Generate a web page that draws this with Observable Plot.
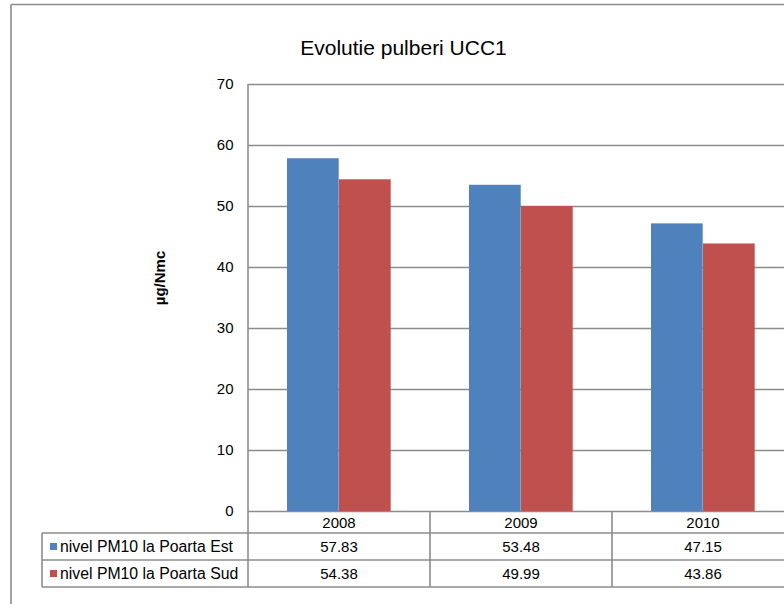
<!DOCTYPE html>
<html><head><meta charset="utf-8">
<script src="https://cdn.jsdelivr.net/npm/d3@7"></script>
<script src="https://cdn.jsdelivr.net/npm/@observablehq/plot@0.6"></script>
<style>
html,body{margin:0;padding:0;background:#fff;overflow:hidden}
#chart svg{font-family:"Liberation Sans",Arial,sans-serif;display:block;background:#fff}
</style></head><body><div id="chart"></div>
<script>
const title = "Evolutie pulberi UCC1";
const yLabel = "µg/Nmc";
const years = ["2008", "2009", "2010"];
const seriesNames = ["nivel PM10 la Poarta Est", "nivel PM10 la Poarta Sud"];
const estValues = [57.83, 53.48, 47.15];
const sudValues = [54.38, 49.99, 43.86];
const seriesColors = ["#4F81BD", "#C0504D"];
const yTicks = [0, 10, 20, 30, 40, 50, 60, 70];

const lineColor = "#8c8c8c";
const rows = [];
years.forEach((yr, i) => {
  rows.push({year: yr, series: seriesNames[0], value: estValues[i]});
  rows.push({year: yr, series: seriesNames[1], value: sudValues[i]});
});
const seriesValues = [estValues, sudValues];

const W = 784, H = 604;
const plotLeft = 248, plotTop = 84, plotBottom = 511;
const catW = 182.3;
const fs = 15;

const tableLayer = (index, scales, values, dims) => {
  const x = scales.x;
  const step = x(years[1]) - x(years[0]);
  const left = dims.marginLeft;
  const base = dims.height - dims.marginBottom;
  const rowY = [base, base + 22, base + 49, base + 76];
  const labelLeft = 42;
  const right = x(years[years.length - 1]) + step;
  const g = d3.create("svg:g");
  const lines = g.append("g").attr("stroke", lineColor).attr("stroke-width", 1.6).attr("fill", "none");
  // outer chart border (left and top)
  lines.append("line").attr("x1", 11).attr("x2", 11).attr("y1", 4.5).attr("y2", H);
  lines.append("line").attr("x1", 11).attr("x2", W).attr("y1", 4.5).attr("y2", 4.5);
  // table horizontals
  for (let r = 1; r < rowY.length; r++) {
    lines.append("line").attr("x1", labelLeft).attr("x2", right).attr("y1", rowY[r]).attr("y2", rowY[r]);
  }
  // verticals
  lines.append("line").attr("x1", labelLeft).attr("x2", labelLeft).attr("y1", rowY[1]).attr("y2", rowY[3]);
  lines.append("line").attr("x1", left).attr("x2", left).attr("y1", dims.marginTop).attr("y2", rowY[3]);
  years.forEach(yr => {
    const xe = x(yr) + step;
    lines.append("line").attr("x1", xe).attr("x2", xe).attr("y1", base).attr("y2", rowY[3]);
  });
  const txt = g.append("g").attr("font-size", fs).attr("fill", "#000");
  // header years
  years.forEach(yr => {
    txt.append("text").attr("x", x(yr) + step / 2).attr("y", (rowY[0] + rowY[1]) / 2)
      .attr("text-anchor", "middle").attr("dominant-baseline", "central").text(yr);
  });
  // series rows
  seriesNames.forEach((name, s) => {
    const cy = (rowY[s + 1] + rowY[s + 2]) / 2;
    g.append("rect").attr("x", labelLeft + 8).attr("y", cy - 3.5).attr("width", 7).attr("height", 7).attr("fill", seriesColors[s]);
    txt.append("text").attr("x", labelLeft + 18).attr("y", cy).attr("text-anchor", "start")
      .attr("font-size", 15.8).attr("dominant-baseline", "central").text(name);
    years.forEach((yr, i) => {
      txt.append("text").attr("x", x(yr) + step / 2).attr("y", cy)
        .attr("text-anchor", "middle").attr("dominant-baseline", "central").text(seriesValues[s][i].toFixed(2));
    });
  });
  return g.node();
};

const barW = 52, outerPad = 39;
const chart = Plot.plot({
  width: W,
  height: H,
  marginLeft: plotLeft,
  marginTop: plotTop,
  marginBottom: H - plotBottom,
  marginRight: 0,
  x: {type: "band", domain: years, range: [plotLeft, plotLeft + 3 * catW], padding: 0, axis: null},
  y: {domain: [0, 70], range: [plotBottom, plotTop], axis: null},
  marks: [
    Plot.ruleY(yTicks, {stroke: lineColor, strokeWidth: 1.6}),
    Plot.barY(rows, {filter: d => d.series === seriesNames[0], x: "year", y: "value", fill: seriesColors[0], insetLeft: outerPad, insetRight: catW - outerPad - barW}),
    Plot.barY(rows, {filter: d => d.series === seriesNames[1], x: "year", y: "value", fill: seriesColors[1], insetLeft: outerPad + barW, insetRight: catW - outerPad - 2 * barW}),
    Plot.text(yTicks, {y: d => d, frameAnchor: "left", dx: -15, textAnchor: "end", fontSize: fs, fill: "#000"}),
    Plot.text([yLabel], {frameAnchor: "left", dx: -88, dy: -20, rotate: -90, textAnchor: "middle", fontSize: 15, fontWeight: "bold", fill: "#000"}),
    Plot.text([title], {frameAnchor: "top-left", dx: 155, dy: -44, textAnchor: "middle", fontSize: 21, fill: "#000"}),
    tableLayer
  ]
});
document.getElementById("chart").appendChild(chart);
</script>
</body></html>
